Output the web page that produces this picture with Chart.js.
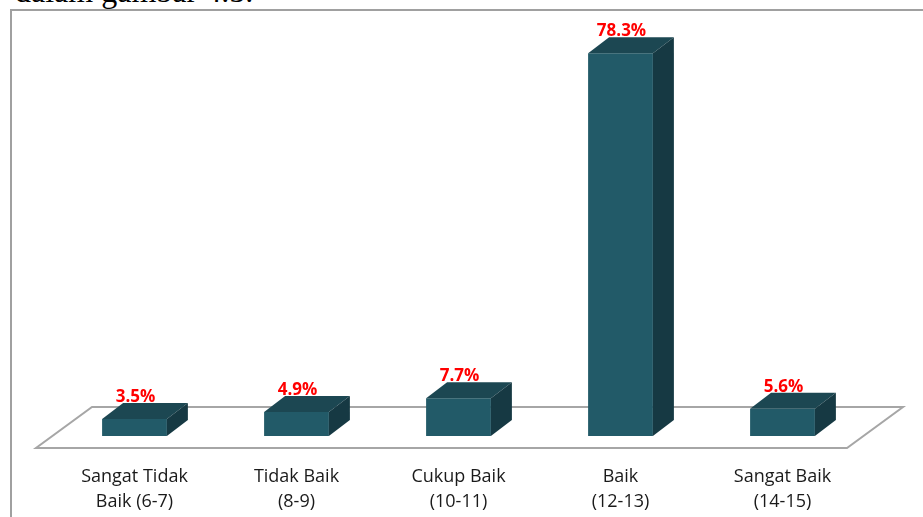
<!DOCTYPE html>
<html>
<head>
<meta charset="utf-8">
<script src="https://cdn.jsdelivr.net/npm/chart.js@4.4.0/dist/chart.umd.min.js"></script>
<style>
  html, body { margin: 0; padding: 0; background: #fff; overflow: hidden; }
  #wrap { position: relative; width: 923px; height: 517px; overflow: hidden; }
  #caption {
    position: absolute; left: 15px; top: -25px;
    font: 32px "Liberation Serif", serif; line-height: 32px; color: #000; white-space: nowrap;
  }
  #frame {
    position: absolute; left: 10px; top: 9px; width: 1000px; height: 1000px;
    border: 2px solid #a0a0a0; box-sizing: border-box;
  }
  canvas { position: absolute; left: 0; top: 0; }
</style>
</head>
<body>
<div id="wrap">
  <div id="caption">dalam gambar 4.5.</div>
  <div id="frame"></div>
  <canvas id="scoreChart" width="923" height="517"></canvas>
</div>
<script>
document.addEventListener("DOMContentLoaded", () => {
    // --- data ---
    const categories = [
        ['Sangat Tidak', 'Baik (6-7)'],
        ['Tidak Baik', '(8-9)'],
        ['Cukup Baik', '(10-11)'],
        ['Baik', '(12-13)'],
        ['Sangat Baik', '(14-15)']
    ];
    const percentages = [3.5, 4.9, 7.7, 78.3, 5.6];

    // --- colours ---
    const frontColor = '#225a68';
    const topColor = '#1c4752';
    const sideColor = '#163943';
    const floorLine = '#a6a6a6';
    const labelRed = '#ff0000';
    const inkColor = '#1a1a1a';

    // depth of each box (to the right and up)
    const depthX = 21, depthY = -16;

    // floor slab plus top/side faces of the bars
    const box3d = {
        id: 'box3d',
        beforeDatasetsDraw(chart) {
            const { ctx, chartArea: a } = chart;
            ctx.save();
            ctx.beginPath();
            ctx.moveTo(a.left - 17.5, a.bottom + 12);
            ctx.lineTo(a.right - 16.5, a.bottom + 12);
            ctx.lineTo(a.right + 39.5, a.bottom - 29);
            ctx.lineTo(a.left + 38.5, a.bottom - 29);
            ctx.closePath();
            ctx.fillStyle = '#fff';
            ctx.fill();
            ctx.strokeStyle = floorLine;
            ctx.lineWidth = 2;
            ctx.stroke();
            ctx.restore();
        },
        afterDatasetsDraw(chart) {
            const { ctx } = chart;
            const meta = chart.getDatasetMeta(0);
            ctx.save();
            meta.data.forEach((bar, i) => {
                const x0 = bar.x - bar.width / 2, x1 = bar.x + bar.width / 2;
                const y = bar.y, base = bar.base;
                // top face
                ctx.beginPath();
                ctx.moveTo(x0, y);
                ctx.lineTo(x1, y);
                ctx.lineTo(x1 + depthX, y + depthY);
                ctx.lineTo(x0 + depthX, y + depthY);
                ctx.closePath();
                ctx.fillStyle = topColor;
                ctx.fill();
                // side face
                ctx.beginPath();
                ctx.moveTo(x1, y);
                ctx.lineTo(x1 + depthX, y + depthY);
                ctx.lineTo(x1 + depthX, base + depthY);
                ctx.lineTo(x1, base);
                ctx.closePath();
                ctx.fillStyle = sideColor;
                ctx.fill();
                // value label
                ctx.fillStyle = labelRed;
                ctx.font = 'bold 17px "Open Sans"';
                ctx.textAlign = 'center';
                ctx.textBaseline = 'alphabetic';
                ctx.fillText(percentages[i].toFixed(1) + '%', bar.x + 1, y + depthY - 1);
            });
            ctx.restore();
        }
    };

    const ctxEl = document.getElementById('scoreChart');
    new Chart(ctxEl.getContext('2d'), {
        type: 'bar',
        data: {
            labels: categories,
            datasets: [{
                label: 'Persentase',
                data: percentages,
                backgroundColor: frontColor,
                borderWidth: 0,
                categoryPercentage: 1,
                barPercentage: 0.4
            }]
        },
        options: {
            responsive: false,
            animation: false,
            layout: { padding: { left: 53.5, right: 59.5, top: 45, bottom: 0 } },
            scales: {
                y: { display: false, min: 0, max: 80 },
                x: {
                    grid: { display: false, drawTicks: false },
                    border: { display: false },
                    afterFit(scale) { scale.height = 81; },
                    ticks: {
                        color: inkColor,
                        padding: 28,
                        maxRotation: 0,
                        autoSkip: false,
                        font: { family: 'Open Sans', size: 18, lineHeight: 1.39 }
                    }
                }
            },
            plugins: { legend: { display: false }, tooltip: { enabled: false } }
        },
        plugins: [box3d]
    });
});
</script>
</body>
</html>
